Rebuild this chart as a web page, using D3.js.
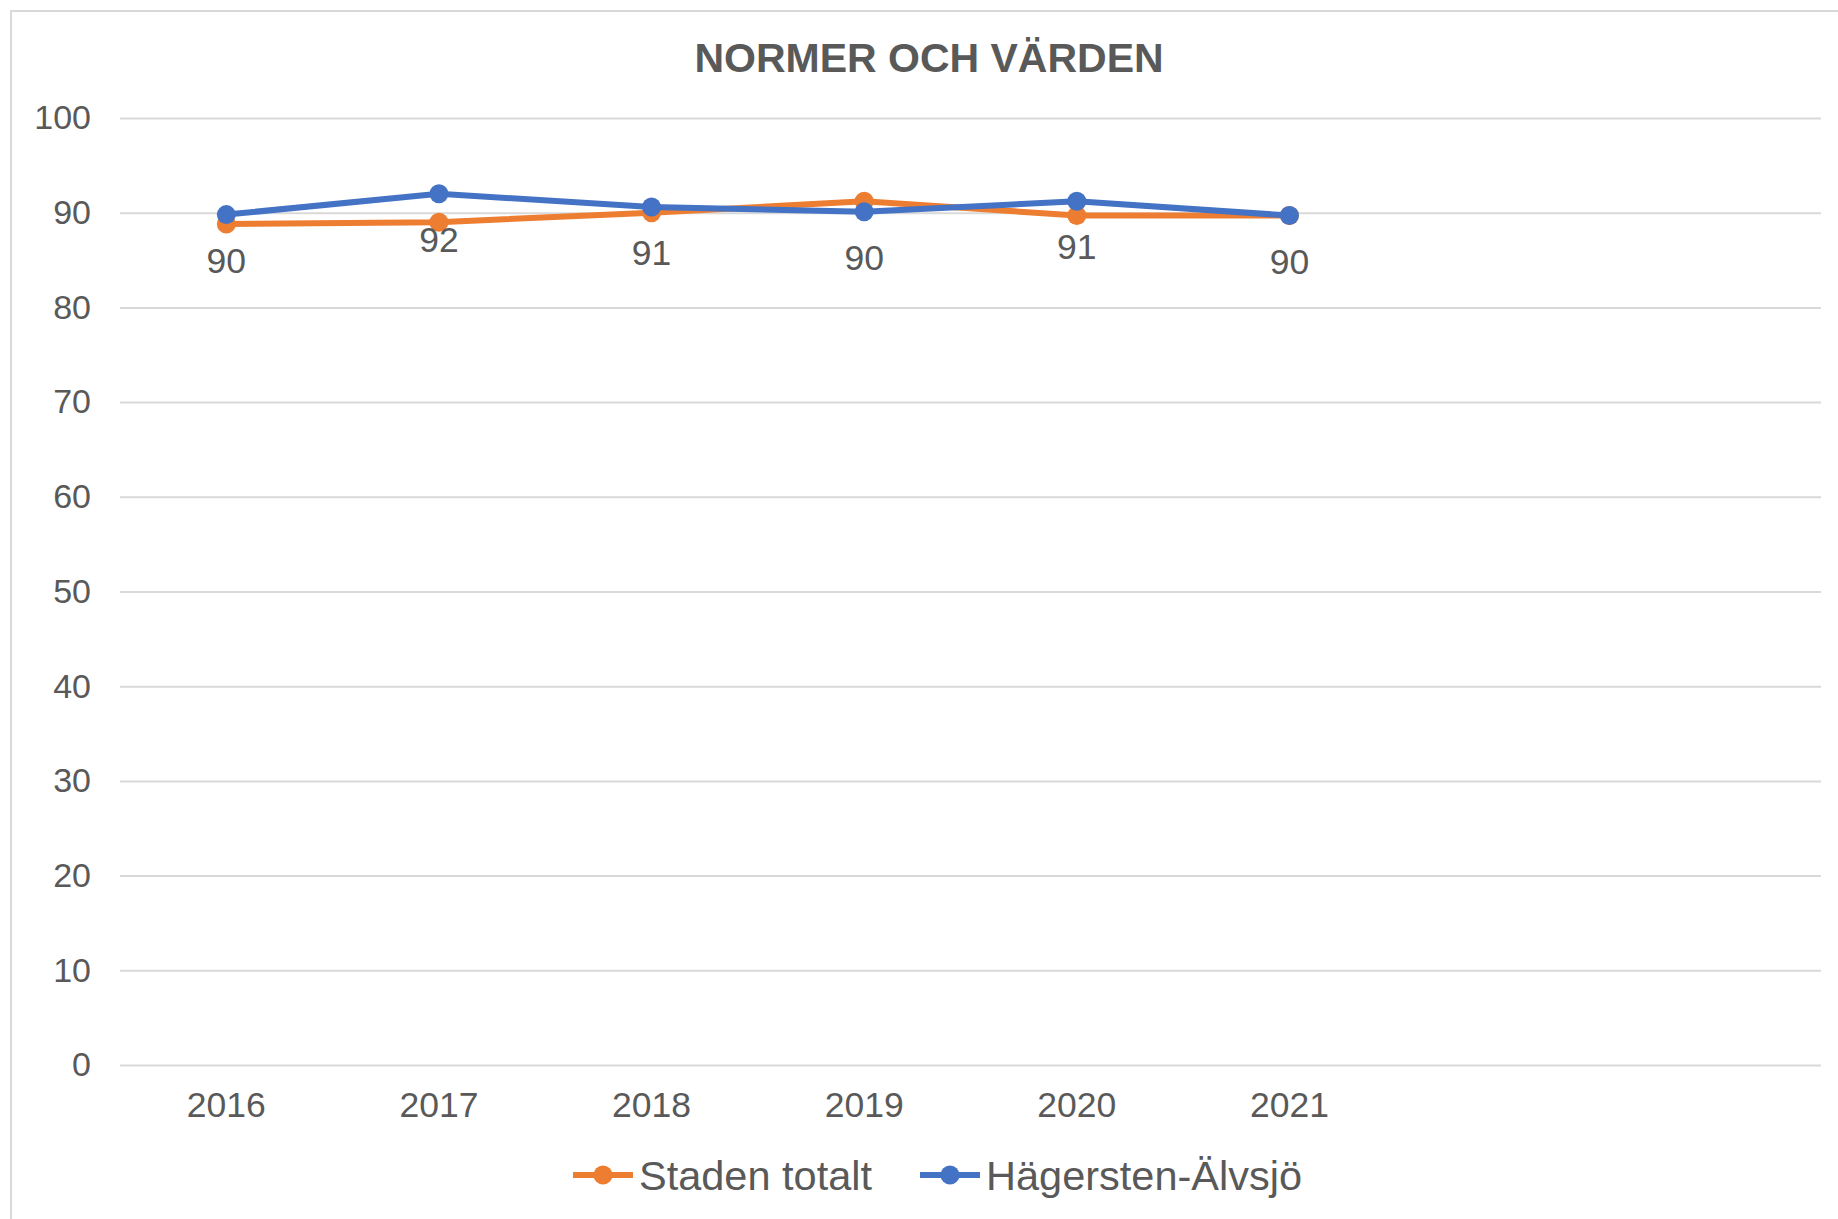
<!DOCTYPE html>
<html>
<head>
<meta charset="utf-8">
<script src="https://cdn.jsdelivr.net/npm/d3@7"></script>
<style>
  body { margin: 0; background: #fff; }
  text { font-family: 'Liberation Sans', Arial, sans-serif; fill: #595959; }
</style>
</head>
<body>
<div id="chart"></div>
<script>
// data
var years = ['2016', '2017', '2018', '2019', '2020', '2021'];
var stadenTotalt = [88.8, 89.0, 90.0, 91.2, 89.7, 89.7];
var hagersten = [89.8, 92.0, 90.6, 90.1, 91.2, 89.7];
var yTicks = [0, 10, 20, 30, 40, 50, 60, 70, 80, 90, 100];
var seriesNames = ['Staden totalt', 'Hägersten-Älvsjö'];
var seriesColors = ['#ED7D31', '#4472C4'];
var slotCount = 8; // category axis has room for 8 years, only 6 filled

var width = 1838,
  height = 1219;

var svg = d3.select('#chart').append('svg')
    .attr('width', width)
    .attr('height', height);

// chart frame
svg.append('path')
    .attr('d', 'M11,' + height + 'V11H' + width)
    .attr('fill', 'none')
    .attr('stroke', '#d9d9d9')
    .attr('stroke-width', 2);

var plotLeft = 120, plotRight = 1821, plotTop = 118, plotBottom = 1065;

var x = d3.scaleBand()
    .domain(d3.range(slotCount))
    .range([plotLeft, plotRight]);

var y = d3.scaleLinear()
    .domain([0, 100])
    .range([plotBottom, plotTop]);

// gridlines + y labels
var yAxis = svg.append('g')
    .attr('transform', 'translate(' + plotLeft + ',0)')
    .call(d3.axisLeft(y).tickValues(yTicks).tickSize(-(plotRight - plotLeft)).tickPadding(29));
yAxis.select('.domain').remove();
yAxis.selectAll('line').attr('stroke', '#d9d9d9').attr('stroke-width', 2);
yAxis.selectAll('text').style('font-size', '34px').attr('fill', '#595959');

// x labels
var xAxis = svg.append('g')
    .attr('transform', 'translate(0,' + plotBottom + ')')
    .call(d3.axisBottom(x).tickValues(d3.range(years.length)).tickSize(0).tickPadding(27)
      .tickFormat(function(i) { return years[i]; }));
xAxis.select('.domain').remove();
xAxis.selectAll('text').style('font-size', '35.5px').attr('fill', '#595959');

// title
svg.append('text')
    .attr('x', 929)
    .attr('y', 72)
    .attr('text-anchor', 'middle')
    .style('font-size', '41px')
    .style('font-weight', 'bold')
    .text('NORMER OCH VÄRDEN');

var cx = function(d, i) { return x(i) + x.bandwidth() / 2; };

var line = d3.line()
    .x(cx)
    .y(function(d) { return y(d); });

[stadenTotalt, hagersten].forEach(function(values, s) {
  var g = svg.append('g');
  g.append('path')
      .datum(values)
      .attr('d', line)
      .attr('fill', 'none')
      .attr('stroke', seriesColors[s])
      .attr('stroke-width', 6)
      .attr('stroke-linejoin', 'round');
  g.selectAll('circle')
      .data(values)
      .enter().append('circle')
      .attr('cx', cx)
      .attr('cy', function(d) { return y(d); })
      .attr('r', 9.5)
      .attr('fill', seriesColors[s]);
});

// data labels (Hägersten-Älvsjö, below points)
svg.append('g').selectAll('text')
    .data(hagersten)
    .enter().append('text')
    .attr('x', cx)
    .attr('y', function(d) { return y(d) + 58; })
    .attr('text-anchor', 'middle')
    .style('font-size', '35.5px')
    .attr('fill', '#404040')
    .text(function(d) { return d3.format('.0f')(d); });

// legend
var legendX = [573, 920];
var legendY = 1175;
var legend = svg.append('g');
seriesNames.forEach(function(name, s) {
  var lg = legend.append('g').attr('transform', 'translate(' + legendX[s] + ',' + legendY + ')');
  lg.append('line')
      .attr('x1', 0).attr('x2', 60)
      .attr('stroke', seriesColors[s])
      .attr('stroke-width', 6);
  lg.append('circle')
      .attr('cx', 30)
      .attr('r', 9.5)
      .attr('fill', seriesColors[s]);
  lg.append('text')
      .attr('x', 66)
      .attr('dy', '0.36em')
      .style('font-size', '41.5px')
      .text(name);
});
</script>
</body>
</html>
